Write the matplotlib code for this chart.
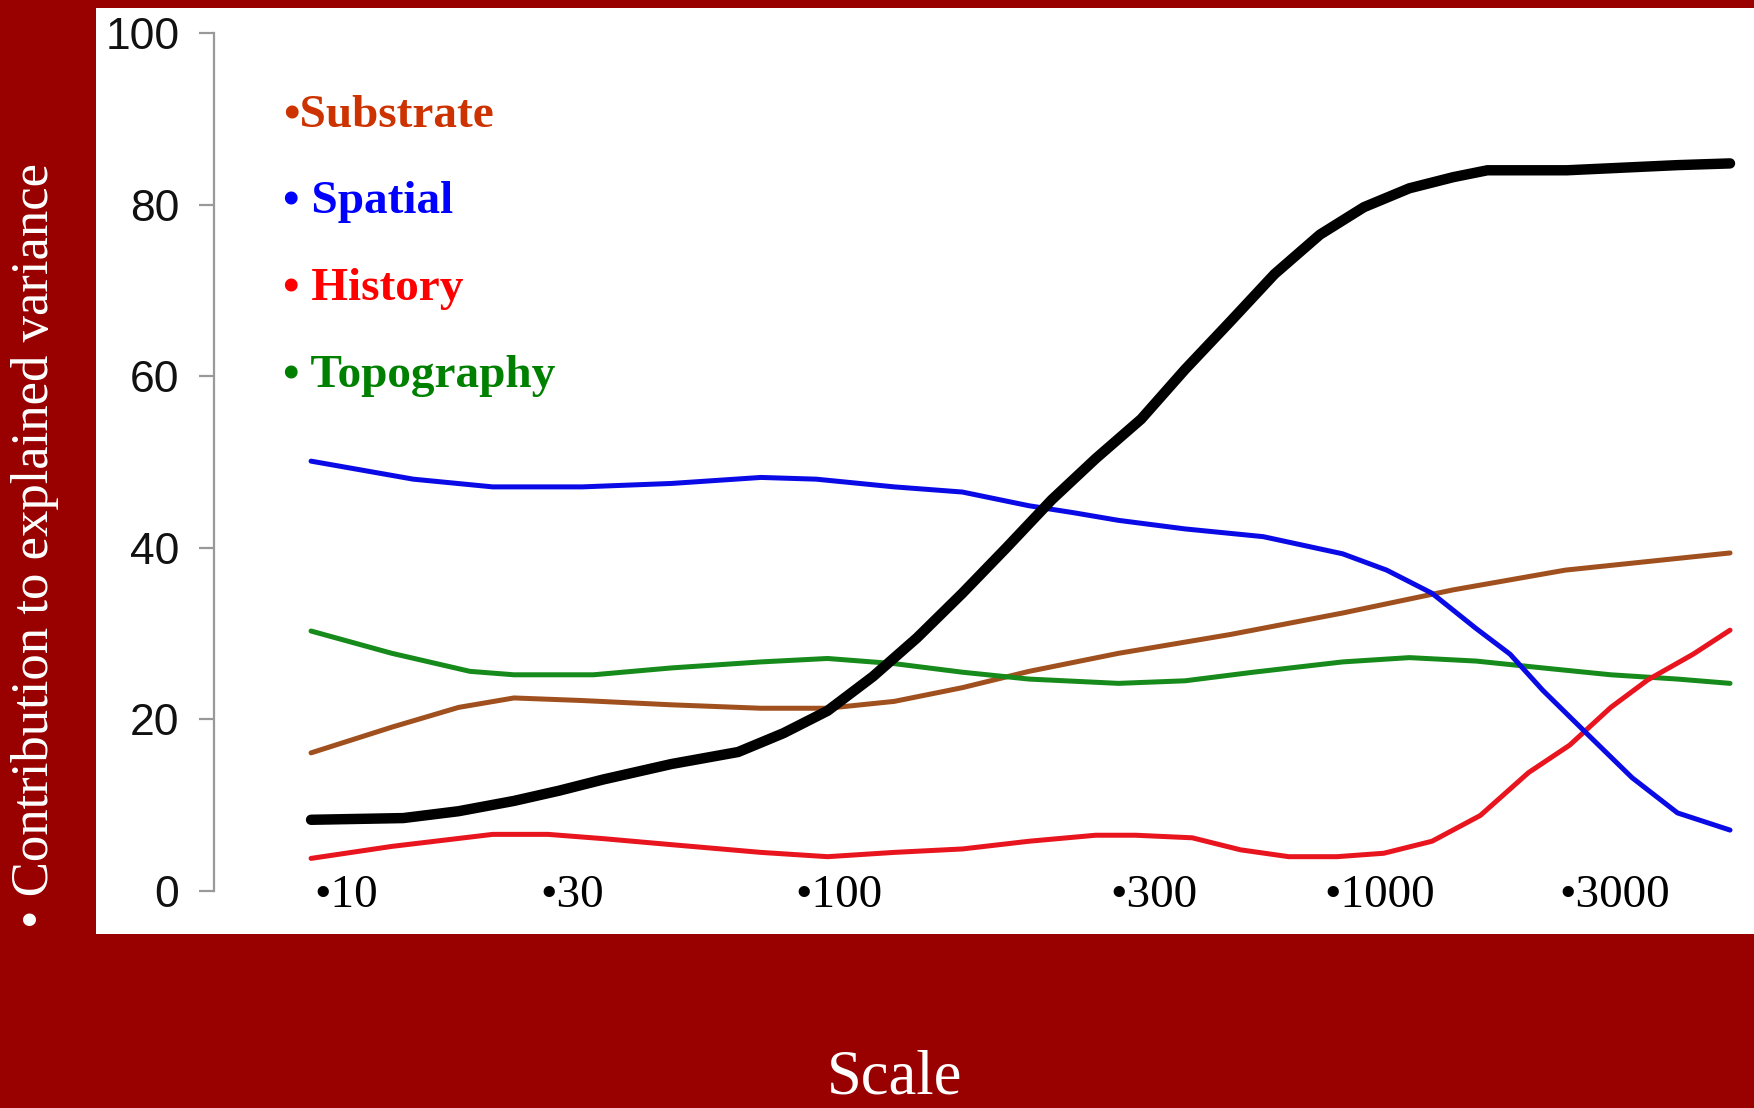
import matplotlib
matplotlib.use("Agg")
from matplotlib import pyplot as plt
from matplotlib.patches import Rectangle

# scale position along the x axis (arbitrary units, 0 = first sample, 100 = last)
tick_pos = [2.5, 18.4, 37.2, 59.4, 75.3, 91.9]
tick_labels = ["\u202210", "\u202230", "\u2022100", "\u2022300", "\u20221000", "\u20223000"]

total_x = [0, 6.5, 10.4, 14.3, 17.5, 20.6, 25.4, 30.1, 33.3, 36.4, 39.6, 42.7, 45.9, 49.0,
           52.2, 55.3, 58.5, 61.6, 64.8, 67.9, 71.1, 74.2, 77.4, 80.5, 82.9, 88.5, 96.3, 100]
total_y = [8.3, 8.5, 9.3, 10.5, 11.7, 13.0, 14.8, 16.2, 18.4, 21.0, 25.0, 29.5, 34.7, 40.0,
           45.6, 50.4, 55.0, 60.8, 66.4, 71.9, 76.5, 79.7, 81.9, 83.2, 84.0, 84.0, 84.6, 84.8]

spatial_x = [0, 7.2, 12.8, 19.1, 25.4, 31.7, 35.6, 41.1, 45.9, 50.6, 53.7, 56.9, 61.6, 67.1,
             72.7, 75.8, 79.0, 82.1, 84.5, 86.8, 90.0, 93.1, 96.3, 100]
spatial_y = [50.1, 48.0, 47.1, 47.1, 47.5, 48.2, 48.0, 47.1, 46.5, 44.9, 44.1, 43.2, 42.2, 41.3,
             39.3, 37.4, 34.7, 30.6, 27.6, 23.4, 18.2, 13.2, 9.1, 7.1]

topo_x = [0, 5.7, 11.2, 14.3, 19.9, 25.4, 31.7, 36.4, 41.1, 45.9, 50.6, 56.9, 61.6, 66.4,
          72.7, 77.4, 82.1, 86.8, 91.6, 96.3, 100]
topo_y = [30.3, 27.7, 25.6, 25.2, 25.2, 26.0, 26.7, 27.1, 26.5, 25.5, 24.7, 24.2, 24.5, 25.5,
          26.7, 27.2, 26.8, 26.0, 25.2, 24.7, 24.2]

subs_x = [0, 5.7, 10.4, 14.3, 19.1, 25.4, 31.7, 36.4, 41.1, 45.9, 50.6, 56.9, 64.8, 72.7,
          80.5, 88.4, 100]
subs_y = [16.1, 19.1, 21.4, 22.5, 22.2, 21.7, 21.3, 21.3, 22.1, 23.7, 25.6, 27.7, 29.9, 32.4,
          35.1, 37.4, 39.4]

hist_x = [0, 5.7, 12.8, 16.7, 20.6, 25.4, 31.7, 36.4, 41.1, 45.9, 50.6, 55.3, 58.1, 62.1,
          65.5, 68.9, 72.3, 75.6, 79.0, 82.4, 85.8, 88.7, 91.6, 94.2, 97.4, 100]
hist_y = [3.8, 5.2, 6.6, 6.6, 6.1, 5.4, 4.5, 4.0, 4.5, 4.9, 5.8, 6.5, 6.5, 6.2,
          4.8, 4.0, 4.0, 4.4, 5.8, 8.8, 13.8, 17.0, 21.4, 24.6, 27.6, 30.4]

legend_names = ["\u2022Substrate", "\u2022 Spatial", "\u2022 History", "\u2022 Topography"]
legend_colors = ["#CC3300", "#0000FF", "#FF0000", "#008000"]

bg = "#990000"
fig = plt.figure(figsize=(17.54, 11.08), dpi=100, facecolor=bg)
fig.patches.append(Rectangle((96/1754, 1-934/1108), 1-96/1754, (934-8)/1108,
                             transform=fig.transFigure, facecolor="white", edgecolor="none", zorder=-5))

ax = fig.add_axes([214/1754, 1-891/1108, 1-214/1754, (891-33)/1108])
ax.set_zorder(2)
ax.set_facecolor("none")

ax.plot(subs_x, subs_y, color="#A0501E", lw=3.6, solid_joinstyle="round", solid_capstyle="round")
ax.plot(topo_x, topo_y, color="#168A1A", lw=3.6, solid_joinstyle="round", solid_capstyle="round")
ax.plot(hist_x, hist_y, color="#E8141E", lw=3.6, solid_joinstyle="round", solid_capstyle="round")
ax.plot(spatial_x, spatial_y, color="#0A0AE6", lw=3.6, solid_joinstyle="round", solid_capstyle="round")
ax.plot(total_x, total_y, color="black", lw=7.5, solid_joinstyle="round", solid_capstyle="round")

ax.set_xlim(-6.84, 101.69)
ax.set_ylim(0, 100)
for s in ["top", "right", "bottom"]:
    ax.spines[s].set_visible(False)
ax.spines["left"].set_color("#999999")
ax.spines["left"].set_linewidth(1.6)
ax.set_yticks([0, 20, 40, 60, 80, 100])
ax.tick_params(axis="y", length=11, width=1.6, color="#999999", pad=14,
               labelsize=32, labelcolor="#111111")
for lab in ax.get_yticklabels():
    lab.set_family("Liberation Sans")
ax.set_xticks([])

for p, t in zip(tick_pos, tick_labels):
    ax.text(p, -0.006, t, transform=ax.get_xaxis_transform(), ha="center", va="center",
            fontsize=34, family="Liberation Serif", color="black", clip_on=False)

ys = [1-127/1108, 1-213/1108, 1-300/1108, 1-387/1108]
for name, c, y in zip(legend_names, legend_colors, ys):
    fig.text(283/1754, y, name, color=c, fontsize=34, fontweight="bold",
             family="Liberation Serif", va="baseline", ha="left")

fig.text(0.02, 1-545/1108, "\u2022 Contribution to explained variance", rotation=90,
         color="white", fontsize=38, family="Liberation Serif", ha="center", va="center")
fig.text(895/1754, 1-1094/1108, "Scale", color="white", fontsize=45,
         family="Liberation Serif", ha="center", va="baseline")

fig.savefig("out.png", dpi=100, facecolor=bg)
